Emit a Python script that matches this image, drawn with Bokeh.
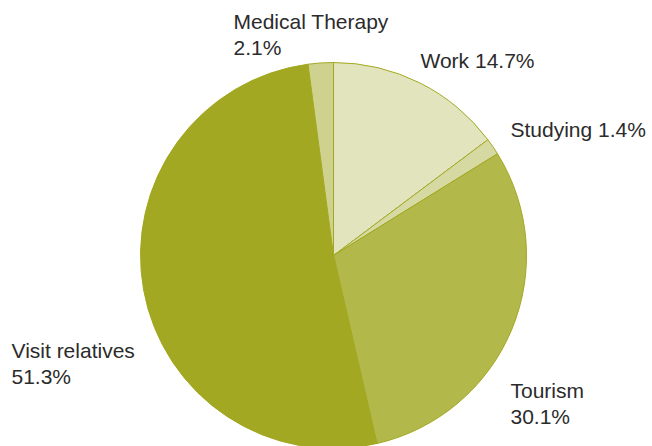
import math
from bokeh.plotting import figure
from bokeh.models import ColumnDataSource, Range1d
from bokeh.core.properties import value
from bokeh.embed import file_html
from bokeh.resources import INLINE

# Data (clockwise from 12 o'clock)
categories = ["Work", "Studying", "Tourism", "Visit relatives", "Medical Therapy"]
shares = [14.7, 1.4, 30.1, 51.3, 2.1]
colors = ["#e1e4bd", "#d6daa2", "#b3b84b", "#a2a821", "#cfd28f"]

# Label layout (x left, y baseline measured from top, in pixels)
label_lines = [
    ["Work 14.7%"],
    ["Studying 1.4%"],
    ["Tourism", "30.1%"],
    ["Visit relatives", "51.3%"],
    ["Medical Therapy", "2.1%"],
]
label_pos = [(420, 60), (510, 129), (510, 390), (11, 350), (233, 21)]
line_gap = 26

W, H = 652, 446
CX, CY, R = 333, 255, 193

p = figure(width=W, height=H, output_backend="svg", toolbar_location=None,
           x_range=Range1d(0, W), y_range=Range1d(0, H), min_border=0)
p.axis.visible = False
p.grid.visible = False
p.outline_line_color = None
p.background_fill_color = "white"
p.border_fill_color = "white"

total = sum(shares)
starts, ends = [], []
cum = 0.0
for s in shares:
    a0 = math.pi / 2 - 2 * math.pi * cum / total
    cum += s
    a1 = math.pi / 2 - 2 * math.pi * cum / total
    starts.append(a0)
    ends.append(a1)

src = ColumnDataSource(dict(start=starts, end=ends, color=colors, cat=categories))
p.wedge(x=CX, y=H - CY, radius=R, start_angle="start", end_angle="end",
        direction="clock", fill_color="color", line_color="#a2a821",
        line_width=1, source=src)

tx, ty, tt = [], [], []
for lines, (x, y) in zip(label_lines, label_pos):
    for i, ln in enumerate(lines):
        tx.append(x)
        ty.append(H - (y + i * line_gap))
        tt.append(ln)
p.text(x=tx, y=ty, text=tt, text_font=value("Liberation Sans"),
       text_font_size="21px", text_color="#2b2b2b",
       text_baseline="alphabetic", text_align="left")

open("out.html", "w").write(file_html(p, INLINE))
